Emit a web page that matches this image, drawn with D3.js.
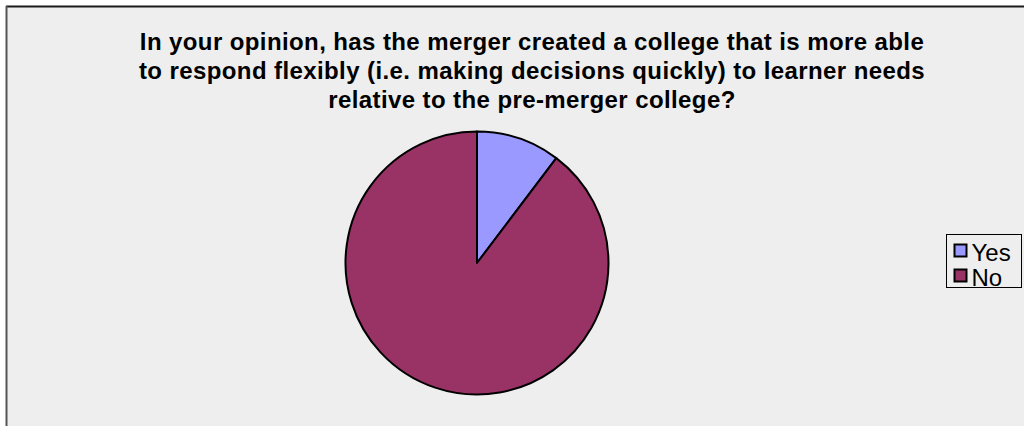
<!DOCTYPE html>
<html>
<head>
<meta charset="utf-8">
<script src="https://cdn.jsdelivr.net/npm/d3@7/dist/d3.min.js"></script>
<style>
  html, body { margin: 0; padding: 0; background: #ffffff; }
  svg { display: block; }
</style>
</head>
<body>
<svg id="chart" width="1024" height="426"></svg>
<script>
// Survey answers (share of respondents, %)
const categories = ["Yes", "No"];
const values = [10.3, 89.7];
const colors = ["#9999FF", "#993366"];
const titleLines = [
  "In your opinion, has the merger created a college that is more able",
  "to respond flexibly (i.e. making decisions quickly) to learner needs",
  "relative to the pre-merger college?"
];

const svg = d3.select("#chart");
const W = 1024, H = 426;

// Chart area panel
svg.append("rect")
  .attr("x", 6).attr("y", 6).attr("width", W).attr("height", H)
  .attr("fill", "#EEEEEE");
svg.append("line")
  .attr("x1", 6).attr("y1", 6.5).attr("x2", W).attr("y2", 6.5)
  .attr("stroke", "#1a1a1a").attr("stroke-width", 2);
svg.append("line")
  .attr("x1", 6.5).attr("y1", 6).attr("x2", 6.5).attr("y2", H)
  .attr("stroke", "#555555").attr("stroke-width", 2);

// Title
const title = svg.append("text")
  .attr("text-anchor", "middle")
  .attr("font-family", "Liberation Sans, Arial, sans-serif")
  .attr("font-weight", "bold")
  .attr("font-size", 24)
  .attr("letter-spacing", 0.4)
  .attr("fill", "#000");
titleLines.forEach((t, i) => {
  title.append("tspan").attr("x", 532).attr("y", 50 + i * 28.8).text(t);
});

// Pie
const cx = 477, cy = 263, r = 131.5;
const pie = d3.pie().sort(null).value(d => d.value);
const arc = d3.arc().innerRadius(0).outerRadius(r);
const data = categories.map((c, i) => ({ name: c, value: values[i], color: colors[i] }));

svg.append("g")
  .attr("transform", `translate(${cx},${cy})`)
  .selectAll("path")
  .data(pie(data))
  .join("path")
  .attr("d", arc)
  .attr("fill", d => d.data.color)
  .attr("stroke", "#000")
  .attr("stroke-width", 2)
  .attr("stroke-linejoin", "round");

// Legend
const lg = svg.append("g").attr("transform", "translate(946.5,234.5)");
lg.append("rect")
  .attr("width", 75).attr("height", 53)
  .attr("fill", "#EEEEEE").attr("stroke", "#000").attr("stroke-width", 1);
const item = lg.selectAll("g.item")
  .data(data)
  .join("g")
  .attr("class", "item")
  .attr("transform", (d, i) => `translate(8,${8 + i * 25})`);
item.append("rect")
  .attr("width", 12).attr("height", 12).attr("y", 2)
  .attr("fill", d => d.color).attr("stroke", "#000").attr("stroke-width", 2);
item.append("text")
  .attr("x", 17).attr("y", 18)
  .attr("font-family", "Liberation Sans, Arial, sans-serif")
  .attr("font-size", 24)
  .attr("fill", "#000")
  .text(d => d.name);
</script>
</body>
</html>
